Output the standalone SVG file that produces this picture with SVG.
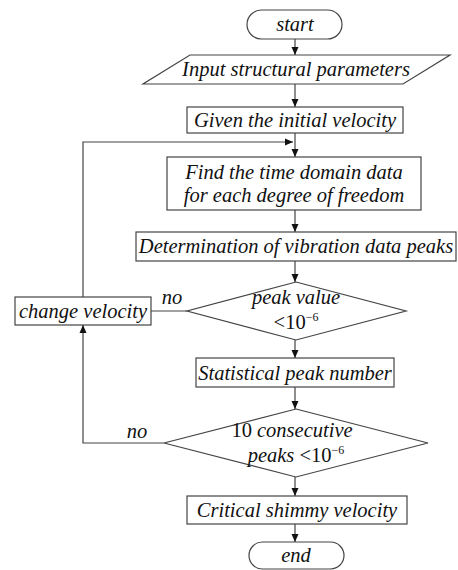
<svg xmlns="http://www.w3.org/2000/svg" width="458" height="570" viewBox="0 0 458 570">
<defs>
<style>
.s{fill:#fff;stroke:#444;stroke-width:1.2}
.t{font-family:'Liberation Serif','Times New Roman','DejaVu Serif',serif;font-style:italic;font-size:20.5px;fill:#111;text-anchor:middle}
.u{font-style:normal}
.c{fill:none;stroke:#444;stroke-width:1.2}
</style>
<marker id="a" markerWidth="8" markerHeight="10" refX="8" refY="5" orient="auto" markerUnits="userSpaceOnUse">
<path d="M0,1.5 L8,5 L0,8.5 Z" fill="#111"/>
</marker>
</defs>
<rect width="458" height="570" fill="#fff"/>
<g id="connectors">
<line class="c" x1="295" y1="39" x2="295" y2="55" marker-end="url(#a)"/>
<line class="c" x1="295" y1="84" x2="295" y2="107" marker-end="url(#a)"/>
<line class="c" x1="295" y1="133" x2="295" y2="157" marker-end="url(#a)"/>
<polyline class="c" points="83,297 83,142 293,142" marker-end="url(#a)"/>
<line class="c" x1="295" y1="210" x2="295" y2="232" marker-end="url(#a)"/>
<line class="c" x1="295" y1="261" x2="295" y2="282" marker-end="url(#a)"/>
<line class="c" x1="187" y1="311" x2="151" y2="311"/>
<line class="c" x1="295" y1="340" x2="295" y2="358" marker-end="url(#a)"/>
<line class="c" x1="295" y1="387" x2="295" y2="409" marker-end="url(#a)"/>
<polyline class="c" points="164,443 83,443 83,325" marker-end="url(#a)"/>
<line class="c" x1="295" y1="477" x2="295" y2="496" marker-end="url(#a)"/>
<line class="c" x1="295" y1="524" x2="295" y2="542" marker-end="url(#a)"/>
<text class="t" x="172" y="304">no</text>
<text class="t" x="137" y="438">no</text>
</g>
<g id="start">
<rect class="s" x="247" y="10" width="95" height="29" rx="14.5"/>
<text class="t" x="295" y="31">start</text>
</g>
<g id="input">
<polygon class="s" points="190,55 450,55 403,84 143,84"/>
<text class="t" x="296" y="76">Input structural parameters</text>
</g>
<g id="given">
<rect class="s" x="187" y="107" width="216" height="26"/>
<text class="t" x="295" y="127">Given the initial velocity</text>
</g>
<g id="find">
<rect class="s" x="167" y="157" width="254" height="53"/>
<text class="t" x="294" y="179">Find the time domain data</text>
<text class="t" x="294" y="202">for each degree of freedom</text>
</g>
<g id="determination">
<rect class="s" x="136" y="232" width="320" height="29"/>
<text class="t" x="296" y="253">Determination of vibration data peaks</text>
</g>
<g id="peak">
<polygon class="s" points="296,282 406,311 296,340 187,311"/>
<text class="t" x="296" y="304">peak value</text>
<text class="t" x="296" y="329"><tspan class="u">&lt;10</tspan><tspan class="u" font-size="12" dy="-8">−6</tspan></text>
</g>
<g id="change">
<rect class="s" x="15" y="297" width="136" height="28"/>
<text class="t" x="83" y="318">change velocity</text>
</g>
<g id="statistical">
<rect class="s" x="196" y="358" width="198" height="29"/>
<text class="t" x="295" y="380">Statistical peak number</text>
</g>
<g id="consecutive">
<polygon class="s" points="296,409 428,443 296,477 164,443"/>
<text class="t" x="292" y="437"><tspan class="u">10</tspan> consecutive</text>
<text class="t" x="296" y="462">peaks <tspan class="u">&lt;10</tspan><tspan class="u" font-size="12" dy="-8">−6</tspan></text>
</g>
<g id="critical">
<rect class="s" x="187" y="496" width="220" height="28"/>
<text class="t" x="297" y="517">Critical shimmy velocity</text>
</g>
<g id="end">
<rect class="s" x="249" y="542" width="95" height="27" rx="13.5"/>
<text class="t" x="296" y="562">end</text>
</g>
</svg>
